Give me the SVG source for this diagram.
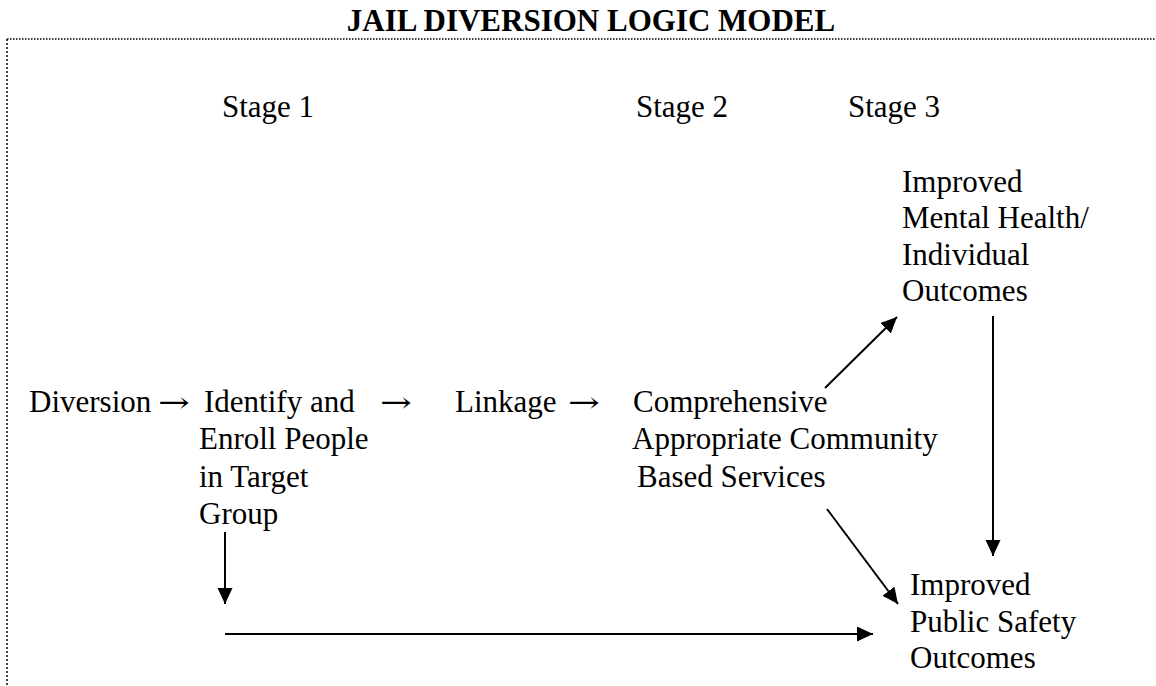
<svg xmlns="http://www.w3.org/2000/svg" width="1156" height="686" viewBox="0 0 1156 686">
<style>
.t{font-family:"Liberation Serif","Times New Roman",serif;font-size:31px;fill:#000}
.ar{font-family:"DejaVu Serif","DejaVu Sans",serif;font-size:28px;fill:#000}
.title{font-family:"Liberation Serif","Times New Roman",serif;font-size:31px;font-weight:bold;fill:#000}
.c{stroke:#000;stroke-width:2;fill:none}
.b{stroke:#000;stroke-width:1.5;fill:none}
</style>
<defs>
<marker id="ah" markerUnits="userSpaceOnUse" markerWidth="20" markerHeight="16" refX="16" refY="7.5" orient="auto">
<path d="M0,0 L16,7.5 L0,15 Z" fill="#000"/>
</marker>
</defs>
<rect width="1156" height="686" fill="#fff"/>
<text class="title" x="591" y="31" text-anchor="middle">JAIL DIVERSION LOGIC MODEL</text>
<g id="border">
<line class="b" x1="7" y1="39" x2="1156" y2="39" stroke-dasharray="1.5 1.5"/>
<line class="b" x1="7" y1="39" x2="7" y2="686" stroke-dasharray="2 2"/>
</g>
<g id="stages">
<text class="t" x="222" y="117">Stage 1</text>
<text class="t" x="636" y="117">Stage 2</text>
<text class="t" x="848" y="117">Stage 3</text>
</g>
<g id="diversion"><text class="t" x="29" y="412">Diversion</text></g>
<g id="inline-arrows">
<text class="ar" x="158" y="412" textLength="32" lengthAdjust="spacingAndGlyphs">→</text>
<text class="ar" x="380" y="412" textLength="32" lengthAdjust="spacingAndGlyphs">→</text>
<text class="ar" x="568" y="412" textLength="32" lengthAdjust="spacingAndGlyphs">→</text>
</g>
<g id="identify">
<text class="t" x="204" y="412">Identify and</text>
<text class="t" x="199" y="449">Enroll People</text>
<text class="t" x="199" y="487">in Target</text>
<text class="t" x="199" y="524">Group</text>
</g>
<g id="linkage"><text class="t" x="455" y="412">Linkage</text></g>
<g id="services">
<text class="t" x="633" y="412">Comprehensive</text>
<text class="t" x="632" y="449">Appropriate Community</text>
<text class="t" x="637" y="487">Based Services</text>
</g>
<g id="mental">
<text class="t" x="902" y="192">Improved</text>
<text class="t" x="902" y="228">Mental Health/</text>
<text class="t" x="902" y="265">Individual</text>
<text class="t" x="902" y="301">Outcomes</text>
</g>
<g id="safety">
<text class="t" x="910" y="595">Improved</text>
<text class="t" x="910" y="632">Public Safety</text>
<text class="t" x="910" y="668">Outcomes</text>
</g>
<g id="connectors">
<line class="c" x1="825" y1="388" x2="897" y2="317" marker-end="url(#ah)"/>
<line class="c" x1="993" y1="316" x2="993" y2="556" marker-end="url(#ah)"/>
<line class="c" x1="827" y1="509" x2="898" y2="604" marker-end="url(#ah)"/>
<line class="c" x1="225" y1="532" x2="225" y2="604" marker-end="url(#ah)"/>
<line class="c" x1="225" y1="634" x2="873" y2="634" marker-end="url(#ah)"/>
</g>
</svg>
